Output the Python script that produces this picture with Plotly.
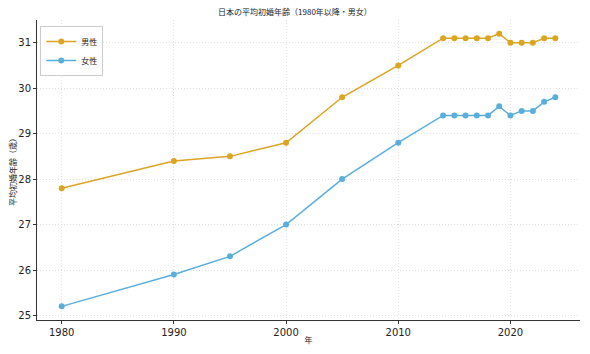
import plotly.graph_objects as go

years = [1980, 1990, 1995, 2000, 2005, 2010, 2014, 2015, 2016, 2017, 2018, 2019, 2020, 2021, 2022, 2023, 2024]
men = [27.8, 28.4, 28.5, 28.8, 29.8, 30.5, 31.1, 31.1, 31.1, 31.1, 31.1, 31.2, 31.0, 31.0, 31.0, 31.1, 31.1]
women = [25.2, 25.9, 26.3, 27.0, 28.0, 28.8, 29.4, 29.4, 29.4, 29.4, 29.4, 29.6, 29.4, 29.5, 29.5, 29.7, 29.8]

FONT = "Noto Sans CJK JP, DejaVu Sans, sans-serif"
TICKFONT = "DejaVu Sans, sans-serif"

fig = go.Figure()
fig.add_trace(go.Scatter(x=years, y=men, mode="lines+markers", name="男性",
                         line=dict(color="#DAA520", width=1.5),
                         marker=dict(size=6, color="#DAA520")))
fig.add_trace(go.Scatter(x=years, y=women, mode="lines+markers", name="女性",
                         line=dict(color="#5AAEDB", width=1.5),
                         marker=dict(size=6, color="#5AAEDB")))

fig.update_layout(
    width=590, height=354,
    margin=dict(l=37, r=10, t=20, b=34, autoexpand=False),
    paper_bgcolor="white", plot_bgcolor="white",
    font=dict(family=FONT, color="#222", size=10),
    title=dict(text="日本の平均初婚年齢（1980年以降・男女）", x=0.5, xanchor="center",
               y=0.965, yanchor="middle", font=dict(size=8, family=FONT)),
    showlegend=True,
    legend=dict(x=0.006, y=0.98, xanchor="left", yanchor="top",
                bordercolor="#cccccc", borderwidth=1, bgcolor="rgba(255,255,255,0.8)",
                font=dict(size=8, family=FONT), itemwidth=30, tracegroupgap=0),
)
fig.update_xaxes(range=[1977.8, 2026.2], tickvals=[1980, 1990, 2000, 2010, 2020],
                 showline=True, linecolor="#333", linewidth=1, automargin=False,
                 ticks="outside", ticklen=3, tickcolor="#333",
                 showgrid=True, gridcolor="#e0e0e0", griddash="1px,2px", gridwidth=1,
                 zeroline=False, tickfont=dict(size=10, family=TICKFONT),
                 title=dict(text="年", font=dict(size=8), standoff=0))
fig.update_yaxes(range=[24.9, 31.5], tickvals=[25, 26, 27, 28, 29, 30, 31],
                 showline=True, linecolor="#333", linewidth=1, automargin=False,
                 ticks="outside", ticklen=3, tickcolor="#333",
                 showgrid=True, gridcolor="#e0e0e0", griddash="1px,2px", gridwidth=1,
                 zeroline=False, tickfont=dict(size=10, family=TICKFONT),
                 title=dict(text="平均初婚年齢（歳）", font=dict(size=8), standoff=0))

fig.write_html("out.html")
